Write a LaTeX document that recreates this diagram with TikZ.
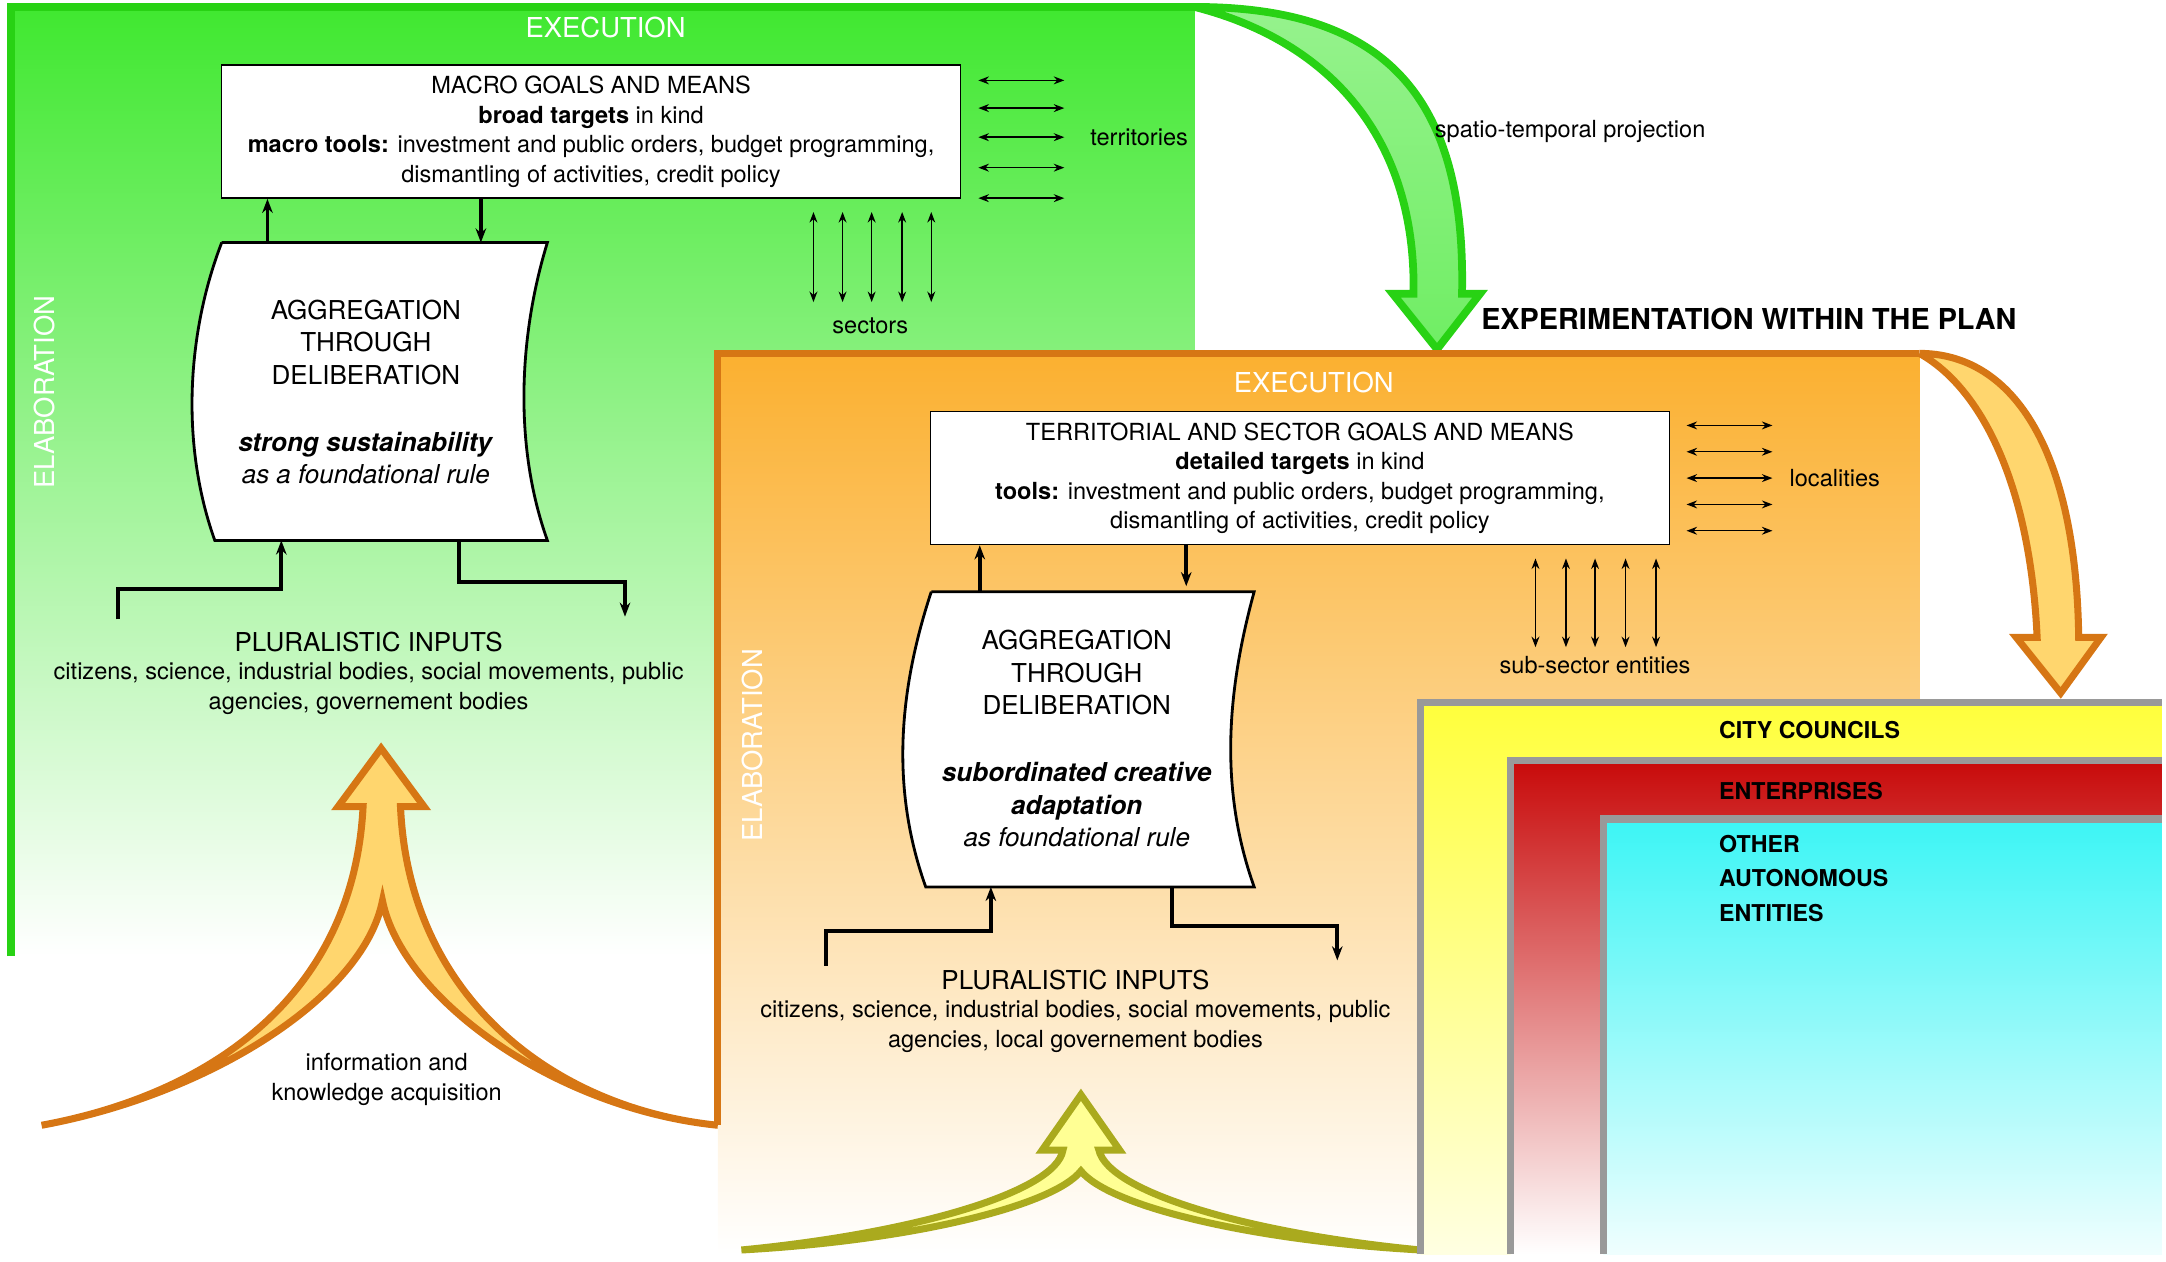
\documentclass[tikz,border=0pt]{standalone}
\usepackage{fontspec}
\setmainfont{TeX Gyre Heros}
\usetikzlibrary{arrows.meta,calc,positioning}
\definecolor{greentop}{RGB}{64,232,48}
\definecolor{greenline}{RGB}{40,210,20}
\definecolor{orangetop}{RGB}{251,176,48}
\definecolor{orangeline}{RGB}{214,118,20}
\definecolor{arrowfill}{RGB}{255,214,110}
\definecolor{olive}{RGB}{170,170,30}
\definecolor{yellowfill}{RGB}{255,255,60}
\definecolor{redfill}{RGB}{200,10,10}
\definecolor{cyanfill}{RGB}{60,245,245}
\newlength\px
\setlength\px{0.01386cm}
\tikzset{
  txt/.style={font=\fontsize{6.7}{8.4}\selectfont, align=center, inner sep=0pt},
  big/.style={font=\fontsize{7.4}{9.2}\selectfont, align=center, inner sep=0pt},
  head/.style={font=\fontsize{7.8}{9}\selectfont, text=white, inner sep=0pt},
  goalbox/.style={draw, fill=white, minimum width=533\px, minimum height=96\px, txt},
  dbl/.style={{Stealth[length=3pt]}-{Stealth[length=3pt]}, thin},
  flow/.style={-{Stealth[length=4pt]}, line width=1.1pt},
}
\begin{document}
\begin{tikzpicture}[x=\px, y=-\px]
    \useasboundingbox (0,0) rectangle (1563,910);

    % green plan area
    \shade[top color=greentop, bottom color=white] (8,5) rectangle (862,690);
    \draw[greenline, line width=2.2pt] (8,690) -- (8,5) -- (862,5);
    \node[head] (exec1) at (437,20) {EXECUTION};
    \node[head, rotate=90] (elab1) at (32,283) {ELABORATION};

    % green projection arrow
    \draw[greenline, line width=2.2pt, top color=greentop!55, bottom color=greentop!75]
      (862,5) .. controls (1000,5) and (1058,70) .. (1055,212) -- (1068,212) -- (1037,252)
      -- (1005,212) -- (1020,212) .. controls (1022,100) and (960,30) .. (862,5);
    \node[txt] (proj) at (1133,95) {spatio-temporal projection};
    \node[font=\bfseries\fontsize{8.2}{10}\selectfont, inner sep=0pt] (exper) at (1262,230) {EXPERIMENTATION WITHIN THE PLAN};

    % macro goals
    \node[goalbox] (macro) at (426.5,95) {MACRO GOALS AND MEANS\\\textbf{broad targets} in kind\\\textbf{macro tools:} investment and public orders, budget programming,\\dismantling of activities, credit policy};
    \foreach \y in {58,78,99,121,143} \draw[dbl] (706,\y) -- (768,\y);
    \node[txt] (terr) at (822,99) {territories};
    \foreach \x in {587,608,629,651,672} \draw[dbl] (\x,153) -- (\x,218);
    \node[txt] (sect) at (628,235) {sectors};

    % aggregation 1
    \draw[fill=white, thick] (160,175) -- (395,175) .. controls (375,240) and (370,320) .. (395,390)
      -- (155,390) .. controls (130,320) and (135,240) .. (160,175);
    \node[big] (agg1) at (264,283) {AGGREGATION\\THROUGH\\DELIBERATION\\[10pt]\textbf{\textit{strong sustainability}}\\\textit{as a foundational rule}};
    \coordinate (a1t) at (193,175); \coordinate (a1b) at (347,175);
    \draw[flow] (a1t) -- (a1t |- macro.south);
    \draw[flow] (a1b |- macro.south) -- (a1b);
    \coordinate (in1a) at (85,447); \coordinate (in1b) at (203,390);
    \coordinate (out1a) at (331,390); \coordinate (out1b) at (451,445);
    \draw[flow] (in1a) |- (203,425) -- (in1b);
    \draw[flow] (out1a) -- (331,420) -| (out1b);
    \node[big] (plur1) at (266,463) {PLURALISTIC INPUTS};
    \node[txt, below=7\px of plur1] (plurt1) {citizens, science, industrial bodies, social movements, public\\agencies, governement bodies};

    % orange plan area
    \shade[top color=orangetop, bottom color=white] (518,255) rectangle (1385,905);
    \draw[orangeline, line width=2pt] (518,812) -- (518,255) -- (1385,255);
    \node[head] (exec2) at (948,276) {EXECUTION};
    \node[head, rotate=90] (elab2) at (543,538) {ELABORATION};

    % knowledge arrow
    \draw[orangeline, line width=2pt, fill=arrowfill]
      (30,812) .. controls (150,790) and (255,720) .. (262,582) -- (244,582) -- (275,540) -- (306,582)
      -- (289,582) .. controls (295,720) and (400,800) .. (518,812)
      .. controls (400,800) and (290,720) .. (276,650)
      .. controls (262,720) and (150,790) .. (30,812);
    \node[txt] (info) at (279,779) {information and\\knowledge acquisition};

    % arrow to autonomous entities
    \draw[orangeline, line width=2pt, fill=arrowfill]
      (1385,255) .. controls (1450,255) and (1498,320) .. (1500,460) -- (1516,460) -- (1487,500)
      -- (1455,460) -- (1470,460) .. controls (1465,350) and (1430,280) .. (1385,255);

    % territorial goals
    \node[goalbox] (terrbox) at (938,345) {TERRITORIAL AND SECTOR GOALS AND MEANS\\\textbf{detailed targets} in kind\\\textbf{tools:} investment and public orders, budget programming,\\dismantling of activities, credit policy};
    \foreach \y in {307,326,345,364,383} \draw[dbl] (1217,\y) -- (1279,\y);
    \node[txt] (loc) at (1324,345) {localities};
    \foreach \x in {1108,1130,1151,1173,1195} \draw[dbl] (\x,403) -- (\x,467);
    \node[txt] (subs) at (1151,480) {sub-sector entities};

    % aggregation 2
    \draw[fill=white, thick] (672,427) -- (905,427) .. controls (885,500) and (880,570) .. (905,640)
      -- (668,640) .. controls (643,570) and (648,500) .. (672,427);
    \node[big] (agg2) at (777,533) {AGGREGATION\\THROUGH\\DELIBERATION\\[10pt]\textbf{\textit{subordinated creative}}\\\textbf{\textit{adaptation}}\\\textit{as foundational rule}};
    \coordinate (a2t) at (707,427); \coordinate (a2b) at (856,423);
    \draw[flow] (a2t) -- (a2t |- terrbox.south);
    \draw[flow] (a2b |- terrbox.south) -- (a2b);
    \coordinate (in2a) at (596,697); \coordinate (in2b) at (715,640);
    \coordinate (out2a) at (846,640); \coordinate (out2b) at (965,693);
    \draw[flow] (in2a) |- (715,672) -- (in2b);
    \draw[flow] (out2a) -- (846,668) -| (out2b);
    \node[big] (plur2) at (776,707) {PLURALISTIC INPUTS};
    \node[txt, below=7\px of plur2] (plurt2) {citizens, science, industrial bodies, social movements, public\\agencies, local governement bodies};

    % feedback arrow
    \draw[olive, line width=2pt, fill=yellowfill!55]
      (535,902) .. controls (660,890) and (762,860) .. (767,830) -- (752,830) -- (780,790) -- (808,830)
      -- (793,830) .. controls (800,860) and (900,890) .. (1025,902)
      .. controls (900,895) and (800,870) .. (780,845)
      .. controls (760,870) and (660,895) .. (535,902);

    % autonomous entities
    \shade[top color=yellowfill, bottom color=yellowfill!15] (1025,507) rectangle (1560,905);
    \draw[gray!80, line width=2pt] (1025,905) -- (1025,507) -- (1560,507);
    \shade[top color=redfill, bottom color=white] (1090,549) rectangle (1560,905);
    \draw[gray!80, line width=2pt] (1090,905) -- (1090,549) -- (1560,549);
    \shade[top color=cyanfill, bottom color=cyanfill!8] (1157,591) rectangle (1560,905);
    \draw[gray!80, line width=2pt] (1157,905) -- (1157,591) -- (1560,591);
    \node[txt, font=\bfseries\fontsize{6.6}{8.5}\selectfont, anchor=west] (city) at (1240,527) {CITY COUNCILS};
    \node[txt, font=\bfseries\fontsize{6.6}{8.5}\selectfont, anchor=west] (ent) at (1240,571) {ENTERPRISES};
    \node[txt, font=\bfseries\fontsize{6.6}{9.8}\selectfont, anchor=north west, align=left] (other) at (1240,602) {OTHER\\AUTONOMOUS\\ENTITIES};
\end{tikzpicture}
\end{document}
